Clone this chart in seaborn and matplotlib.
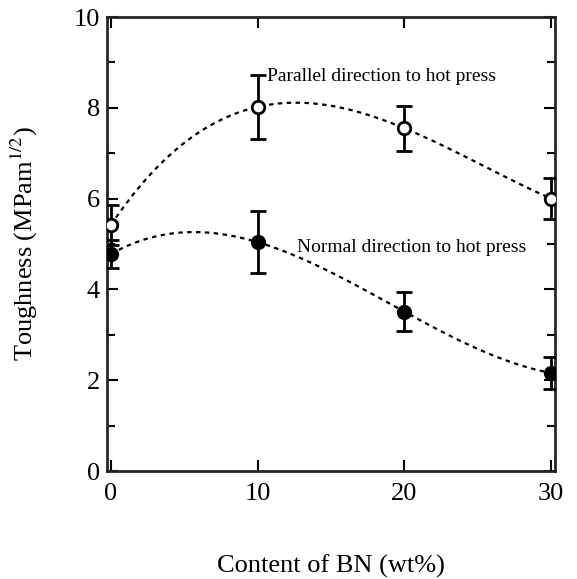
import numpy as np
import pandas as pd
import matplotlib
matplotlib.use("Agg")
import matplotlib.pyplot as plt
import seaborn as sb
from matplotlib.ticker import MultipleLocator

# values
bn = [0, 10, 20, 30]
parallel = [5.42, 8.02, 7.55, 6.0]
parallel_err = [0.45, 0.7, 0.5, 0.45]
normal = [4.78, 5.04, 3.51, 2.16]
normal_err = [0.3, 0.68, 0.43, 0.35]

data = pd.DataFrame({"bn": bn, "parallel": parallel, "normal": normal})

sb.set_style("ticks")
plt.rcParams["font.family"] = ["Liberation Serif", "DejaVu Serif"]
plt.rcParams["mathtext.fontset"] = "stix"
plt.rcParams["text.color"] = "black"
plt.rcParams["axes.labelcolor"] = "black"
plt.rcParams["xtick.color"] = "black"
plt.rcParams["ytick.color"] = "black"

fig = plt.figure(figsize=(5.77, 5.79), dpi=100)
ax = fig.add_axes([107 / 577, 1 - 471 / 579, 448 / 577, 454 / 579])

# dotted cubic fits
line_kw = dict(color="black", lw=1.6, linestyle=(0, (2, 2)))
sb.regplot(x="bn", y="parallel", data=data, order=3, ci=None, scatter=False, line_kws=line_kw, ax=ax)
sb.regplot(x="bn", y="normal", data=data, order=3, ci=None, scatter=False, line_kws=line_kw, ax=ax)

ax.errorbar(bn, parallel, yerr=parallel_err, fmt="o", ms=9, mfc="white", mec="black", mew=2,
            ecolor="black", elinewidth=2, capsize=5.5, capthick=2, zorder=5)
ax.errorbar(bn, normal, yerr=normal_err, fmt="o", ms=9, mfc="black", mec="black", mew=2,
            ecolor="black", elinewidth=2, capsize=5.5, capthick=2, zorder=5)

ax.text(10.65, 8.68, "Parallel direction to hot press", fontsize=14, va="center")
ax.text(12.7, 4.92, "Normal direction to hot press", fontsize=14, va="center")

ax.set_xlim(-0.27, 30.27)
ax.set_ylim(0, 10)
ax.xaxis.set_major_locator(MultipleLocator(10))
ax.yaxis.set_major_locator(MultipleLocator(2))
ax.yaxis.set_minor_locator(MultipleLocator(1))
ax.tick_params(which="both", direction="in", top=True, right=True, width=1.5, labelsize=19)
ax.tick_params(which="major", length=8)
ax.tick_params(which="minor", length=6)
ax.tick_params(axis="x", pad=9)
ax.tick_params(axis="y", pad=5)
for s in ax.spines.values():
    s.set_linewidth(2)
ax.set_xlabel("Content of BN (wt%)", fontsize=19, labelpad=35)
ax.set_ylabel("Toughness (MPam$^{1/2}$)", fontsize=19, labelpad=24)

fig.savefig("out.png", dpi=100)
